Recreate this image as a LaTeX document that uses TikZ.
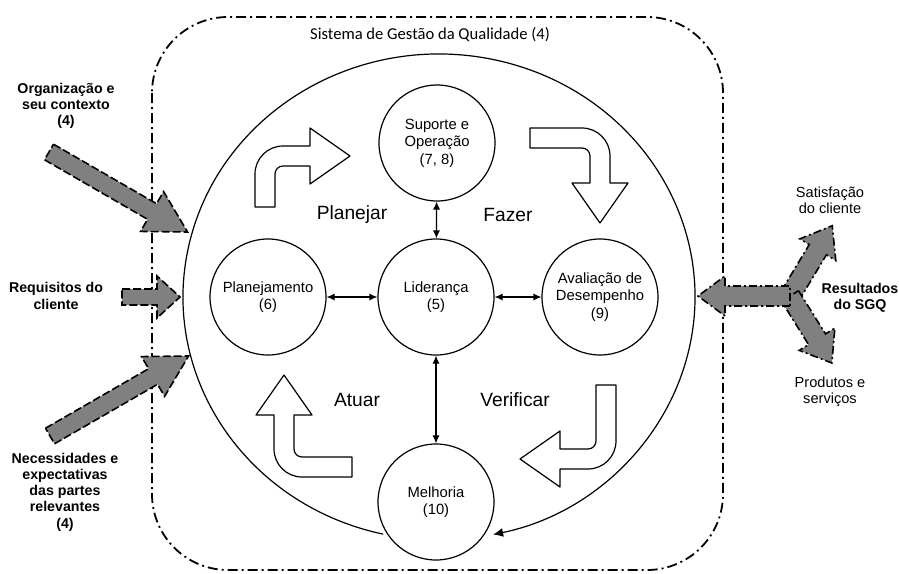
\documentclass[tikz,border=0pt]{standalone}
\usepackage{fontspec}
\setmainfont{Liberation Sans}
\newfontfamily\titlefont{Carlito}
\usepackage{tikz}
\usetikzlibrary{arrows.meta}

\definecolor{arrowgray}{gray}{0.5}

\tikzset{
  sgqborder/.style={line width=0.9pt, rounded corners=38pt,
    dash pattern=on 5pt off 2pt on 1pt off 2pt},
  stage/.style={circle, draw, line width=0.6pt, fill=white, minimum size=58pt,
    inner sep=0pt, align=center, font=\fontsize{7.4}{8.8}\selectfont},
  phase/.style={font=\fontsize{9.6}{11}\selectfont},
  sidelabel/.style={align=center, font=\fontsize{7.3}{8.1}\selectfont},
  sidebold/.style={align=center, font=\fontsize{7.1}{8.1}\selectfont\bfseries},
  link/.style={{Latex[length=4pt,width=3.6pt]}-{Latex[length=4pt,width=3.6pt]},
    line width=0.6pt},
  loopline/.style={-{Latex[length=5pt,width=4.5pt]}, line width=0.6pt},
  grayblock/.style={draw, fill=arrowgray, line width=0.8pt,
    dash pattern=on 4pt off 1.5pt},
  grayblockdd/.style={grayblock, dash pattern=on 4pt off 1.5pt on 1pt off 1.5pt},
  bentblock/.style={draw, fill=white, line width=0.6pt, line join=round}
}

% gray block arrow: [style] tail, angle, length, half shaft, half head, head length
\newcommand{\blockarrow}[7][grayblock]{%
  \draw[#1, shift={#2}, rotate=#3] (0,-#5) -- ({#4-#7},-#5) -- ({#4-#7},-#6)
    -- (#4,0) -- ({#4-#7},#6) -- ({#4-#7},#5) -- (0,#5) -- cycle;}

% white bent arrow: tail, rotation, first leg, second leg
\newcommand{\bentarrow}[4]{%
  \draw[bentblock, shift={#1}, rotate=#2] (-10,0) -- (-10,{-#3+18})
    arc[start angle=180, end angle=270, radius=28] -- ({#4},{-#3-10})
    -- ({#4},{-#3-28}) -- ({#4+40},-#3) -- ({#4},{-#3+28}) -- ({#4},{-#3+10})
    -- (18,{-#3+10}) arc[start angle=270, end angle=180, radius=8] -- (10,0) -- cycle;}

\begin{document}
\begin{tikzpicture}[x=0.5pt, y=-0.5pt]
      \useasboundingbox (0,0) rectangle (899,573);
      %System border
      \draw[sgqborder] (152,17) rectangle (723,570);
      \node[font=\titlefont\fontsize{8.3}{10}\selectfont] (title) at (430,35)
        {Sistema de Gestão da Qualidade (4)};
      %Big cycle
      \coordinate (qc) at (439,297);
      \draw[loopline] ([shift={(102.6:256 and 243)}]qc)
        arc[start angle=102.6, end angle=437.8, x radius=256, y radius=243];
      %Stages
      \node[stage] (ldr) at (436,297) {Liderança\\(5)};
      \node[stage] (plan) at (268,297) {Planejamento\\(6)};
      \node[stage] (aval) at (600,297) {Avaliação de\\Desempenho\\(9)};
      \node[stage] (sup) at (437,143) {Suporte e\\Operação\\(7, 8)};
      \node[stage] (melh) at (436,502) {Melhoria\\(10)};
      \draw[link] (plan) -- (ldr);
      \draw[link] (ldr) -- (aval);
      \draw[link] (sup) -- (ldr);
      \draw[link] (ldr) -- (melh);
      %PDCA
      \node[phase] (planejar) at (352,215) {Planejar};
      \node[phase] (fazer) at (508,215) {Fazer};
      \node[phase] (verificar) at (515,400) {Verificar};
      \node[phase] (atuar) at (357,400) {Atuar};
      \bentarrow{(265,207)}{0}{51}{45}
      \bentarrow{(530,138)}{-90}{70}{45}
      \bentarrow{(606,385)}{180}{74}{46}
      \bentarrow{(352,467)}{90}{68}{52}
      %Inputs
      \blockarrow{(49,152)}{-30}{160}{9}{23}{41}
      \blockarrow{(122,297)}{0}{58}{8}{21}{23}
      \blockarrow{(50,436)}{30}{160}{9}{23}{41}
      \node[sidebold] (org) at (66,106) {Organização e\\seu contexto\\(4)};
      \node[sidebold] (req) at (56,296) {Requisitos do\\cliente};
      \node[sidebold] (nec) at (65,492) {Necessidades e\\expectativas\\das partes\\relevantes\\(4)};
      %Outputs
      \blockarrow[grayblockdd]{(790,296)}{59}{82}{10}{21}{28}
      \blockarrow[grayblockdd]{(790,296)}{-58}{79}{10}{21}{28}
      \blockarrow[grayblockdd]{(790,296)}{180}{92}{10}{20}{27}
      \node[sidelabel] (sat) at (830,200) {Satisfação\\do cliente};
      \node[sidebold] (res) at (860,298) {Resultados\\do SGQ};
      \node[sidelabel] (prod) at (830,392) {Produtos e\\serviços};
\end{tikzpicture}
\end{document}
